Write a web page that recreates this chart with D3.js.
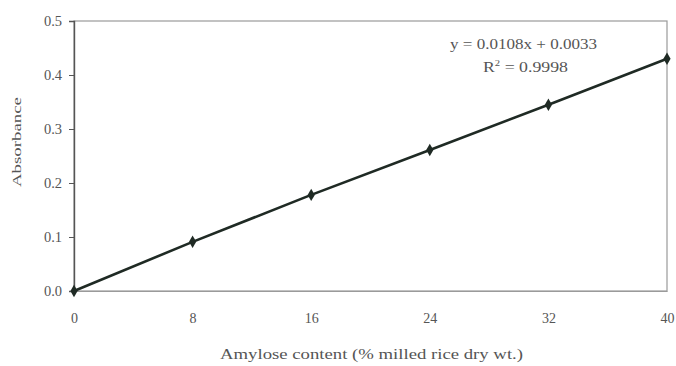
<!DOCTYPE html>
<html>
<head>
<meta charset="utf-8">
<script src="https://cdn.jsdelivr.net/npm/d3@7"></script>
<style>
  html, body { margin: 0; padding: 0; background: #fff; }
  svg { display: block; }
  text { font-family: "Liberation Serif", "Times New Roman", serif; fill: #555; }
</style>
</head>
<body>
<script>
const amylose = [0, 8, 16, 24, 32, 40];
const absorbance = [0.0, 0.091, 0.178, 0.261, 0.345, 0.430];
const xTicks = [0, 8, 16, 24, 32, 40];
const yTicks = [0.0, 0.1, 0.2, 0.3, 0.4, 0.5];
const equationText = "y = 0.0108x + 0.0033";
const r2Value = "0.9998";
const xTitle = "Amylose content  (% milled rice dry wt.)";
const yTitle = "Absorbance";

const W = 676, H = 366;
const m = { left: 74, right: 9, top: 21, bottom: 75 };
const svg = d3.select("body").append("svg").attr("width", W).attr("height", H);

const x = d3.scaleLinear().domain([0, 40]).range([m.left, W - m.right]);
const y = d3.scaleLinear().domain([0, 0.5]).range([H - m.bottom, m.top]);

// box
svg.append("rect")
  .attr("x", x(0)).attr("y", y(0.5))
  .attr("width", x(40) - x(0)).attr("height", y(0) - y(0.5))
  .attr("fill", "none").attr("stroke", "#9a9a9a").attr("stroke-width", 1.2);

// y axis
const yAxis = svg.append("g")
  .attr("transform", `translate(${x(0)},0)`)
  .call(d3.axisLeft(y).tickValues(yTicks).tickFormat(d3.format(".1f")).tickSize(5).tickPadding(7));
yAxis.select(".domain").attr("stroke", "#555").attr("stroke-width", 1.4);
yAxis.selectAll(".tick line").attr("stroke", "#555");
yAxis.selectAll("text").style("font-size", "14.5px").attr("fill", "#555")
  .style("font-family", "Liberation Serif, serif");

// x axis
const xAxis = svg.append("g")
  .attr("transform", `translate(0,${y(0)})`)
  .call(d3.axisBottom(x).tickValues(xTicks).tickFormat(d3.format("d")).tickSize(0).tickPadding(22));
xAxis.select(".domain").attr("stroke", "#9a9a9a").attr("stroke-width", 1.2);
xAxis.selectAll("text").style("font-size", "14px").attr("fill", "#555")
  .style("font-family", "Liberation Serif, serif");

// titles
svg.append("text")
  .attr("x", 220).attr("y", 359)
  .attr("textLength", 303).attr("lengthAdjust", "spacingAndGlyphs")
  .style("font-size", "15px")
  .text(xTitle);
svg.append("text")
  .attr("transform", `translate(21,187) rotate(-90)`)
  .attr("textLength", 90).attr("lengthAdjust", "spacingAndGlyphs")
  .style("font-size", "13.5px")
  .text(yTitle);

// line
const pts = amylose.map((a, i) => [a, absorbance[i]]);
svg.append("path")
  .datum(pts)
  .attr("d", d3.line().x(d => x(d[0])).y(d => y(d[1])))
  .attr("fill", "none").attr("stroke", "#1f2a24").attr("stroke-width", 2.6);

// markers
svg.selectAll(".pt").data(pts).enter().append("path")
  .attr("transform", d => `translate(${x(d[0])},${y(d[1])})`)
  .attr("d", d3.symbol().type(d3.symbolDiamond).size(45))
  .attr("fill", "#1f2a24");

// equation
svg.append("text").attr("x", 450).attr("y", 49)
  .attr("textLength", 147).attr("lengthAdjust", "spacingAndGlyphs")
  .style("font-size", "15px").text(equationText);
const r2 = svg.append("text").attr("x", 483).attr("y", 72)
  .attr("textLength", 85).attr("lengthAdjust", "spacingAndGlyphs")
  .style("font-size", "15px");
r2.append("tspan").text("R");
r2.append("tspan").attr("dy", -6).style("font-size", "9px").text("2");
r2.append("tspan").attr("dy", 6).text(" = " + r2Value);
</script>
</body>
</html>
